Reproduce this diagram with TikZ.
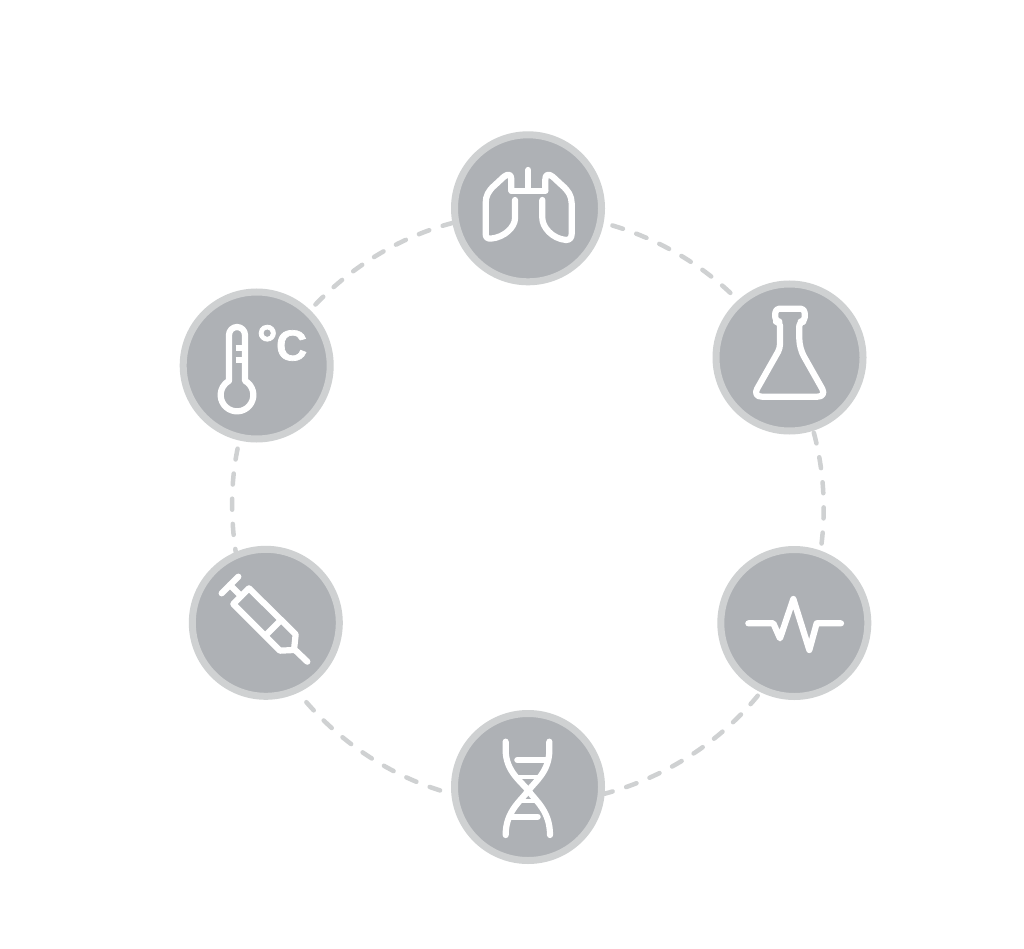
\documentclass[tikz,border=0pt]{standalone}
\usepackage{fontspec}
\setmainfont{Liberation Sans}
\newfontfamily\celsiusfont[FakeBold=1.6]{Liberation Sans Bold}
\definecolor{ringc}{HTML}{CFD1D2}
\definecolor{discc}{HTML}{AEB1B5}
\tikzset{
  badge/.style={circle,draw=ringc,fill=discc,line width=7pt,minimum size=147pt,inner sep=0pt},
  ringarc/.style={draw=ringc,line width=4.5pt,line cap=round,dash pattern=on 11pt off 14.2pt,looseness=.865},
  icon/.style={draw=white,line width=6.2pt,line cap=round,line join=round},
  thinrung/.style={draw=white,line width=4pt,line cap=butt},
  iconat/.style 2 args={shift={(#1,#2)},x=0.33333pt,y=-0.33333pt}
}
\begin{document}
\begin{tikzpicture}[x=1pt,y=-1pt]
\useasboundingbox (0,0) rectangle (1024,949);
\fill[white] (0,0) rectangle (1024,949);
% nodes
\node[badge] (lungs) at (528,208.3) {};
\node[badge] (flask) at (789.5,357.5) {};
\node[badge] (pulse) at (794.3,623) {};
\node[badge] (dna) at (528,787) {};
\node[badge] (syringe) at (265.8,622.8) {};
\node[badge] (thermo) at (256.7,365.5) {};
% dashed ring
\draw[ringarc,dash phase=16pt] (lungs.-11.6) to[out=-14.8,in=134.85] (flask.132.8);
\draw[ringarc,dash phase=23.2pt] (flask.-72.6) to[out=-74.65,in=81.9] (pulse.70.4);
\draw[ringarc,dash phase=20.7pt] (pulse.-116.8) to[out=-128.3,in=15.07] (dna.-5.1);
\draw[ringarc,dash phase=13.5pt] (dna.185.1) to[out=-195.07,in=-51.4] (syringe.-65.8);
\draw[ringarc,dash phase=8pt] (syringe.113.8) to[out=98.37,in=256.63] (thermo.-103.2);
\draw[ringarc,dash phase=17.5pt] (thermo.46) to[out=47.57,in=194.8] (lungs.191.6);
% lungs icon
\begin{scope}[iconat={440}{120}]
\draw[icon] (265,150) -- (265,212);
\draw[icon] (214,212) -- (316,212);
\draw[icon] (214,212) -- (214,178) .. controls (214,163) and (205,160) .. (192,170)
  -- (165,195) .. controls (145,212) and (137,228) .. (137,250) -- (137,342)
  .. controls (137,352) and (142,356) .. (152,356) .. controls (195,352) and (225,320) .. (225,295) -- (225,240);
\draw[icon] (316,212) -- (316,178) .. controls (316,163) and (325,160) .. (338,170)
  -- (365,195) .. controls (385,212) and (395,228) .. (395,250) -- (395,342)
  .. controls (395,352) and (390,360) .. (378,360) .. controls (335,356) and (307,320) .. (307,295) -- (307,240);
\end{scope}
% flask icon
\begin{scope}[iconat={700}{270}]
\draw[icon,rounded corners=4pt] (298,235) -- (298,155) -- (314,155) -- (314,116) -- (226,116) -- (226,155) -- (240,155) -- (240,235) [rounded corners=9pt] -- (158,380) -- (380,380) -- cycle;
\end{scope}
% thermometer icon
\begin{scope}[iconat={170}{280}]
\draw[icon] (177,302.3) -- (177,165) arc[start angle=180,end angle=360,radius=24] -- (225,302.3)
  arc[start angle=-60.7,delta angle=301.4,radius=49] -- cycle;
\draw[icon,line cap=butt] (197,205) -- (222,205);
\draw[icon,line cap=butt] (197,241) -- (222,241);
\node[text=white,inner sep=0pt,anchor=base] (celsius) at (336,241) {\celsiusfont\fontsize{43}{43}\selectfont{\fontsize{52}{52}\selectfont\raisebox{-1pt}{°}}\kern-1.5pt C};
\end{scope}
% syringe icon
\begin{scope}[iconat={175}{535}]
\draw[icon] (140,175) -- (190,125);
\draw[icon] (165,150) -- (198,183);
\draw[icon] (222,160) -- (175,207) -- (315,347) -- (357,345) -- (362,298) -- cycle;
\draw[icon] (315,258) -- (275,298);
\draw[icon] (357,342) -- (397,380);
\end{scope}
% dna icon
\begin{scope}[iconat={440}{700}]
\draw[icon] (197,125) -- (197,150) .. controls (197,215) and (245,245) .. (265,272)
  .. controls (290,305) and (330,335) .. (330,405);
\draw[icon] (328,125) -- (328,150) .. controls (328,215) and (285,245) .. (265,272)
  .. controls (240,305) and (197,335) .. (197,405);
\draw[icon] (232,180) -- (316,180);
\draw[icon] (212,350) -- (293,350);
\draw[thinrung] (232,232) -- (296,232);
\draw[thinrung] (232,304) -- (296,304);
\end{scope}
% pulse icon
\begin{scope}[iconat={705}{535}]
\draw[icon] (130,265) -- (205,265) -- (225,310) -- (265,192) -- (313,345) -- (335,265) -- (408,265);
\end{scope}
\end{tikzpicture}
\end{document}
